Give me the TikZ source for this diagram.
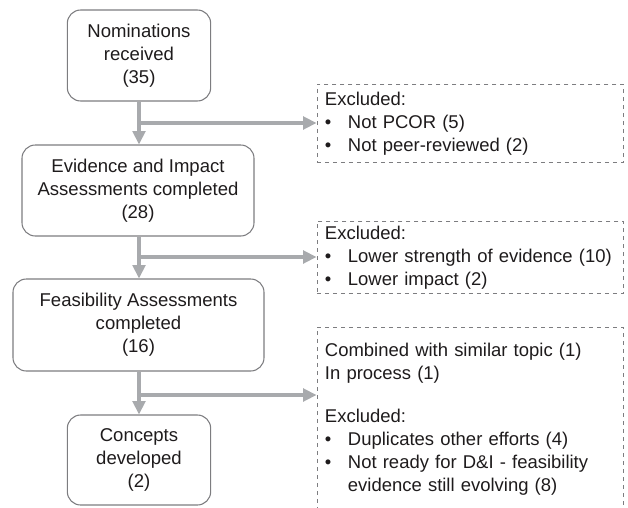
\documentclass[tikz,border=0pt]{standalone}
\usepackage{fontspec}
\setmainfont{Liberation Sans}
\usetikzlibrary{arrows.meta}
\definecolor{flowgray}{RGB}{168,170,173}
\definecolor{framegray}{RGB}{125,125,128}
\definecolor{inkgray}{RGB}{30,27,28}
\newcommand{\bul}{\makebox[17.25pt][l]{\textbullet}}
\tikzset{
  stagebox/.style={draw=framegray, line width=0.8pt, rounded corners=10pt, align=center,
    text=inkgray, font=\fontsize{13.9pt}{17.25pt}\selectfont, inner sep=0pt},
  exclbox/.style={draw=framegray, dashed, line width=0.7pt, anchor=north west, align=left,
    text=inkgray, font=\fontsize{13.85pt}{17.25pt}\selectfont, inner xsep=6pt, inner ysep=0pt,
    text width=218pt},
  flow/.style={draw=flowgray, line width=2.3pt, -{Triangle[length=10pt,width=9.5pt]}}
}
\begin{document}
\begin{tikzpicture}[x=0.75pt, y=-0.75pt]
\useasboundingbox (0,0) rectangle (628,507);
\node[stagebox, minimum width=107.5pt, minimum height=68.25pt] (nom) at (139,55.5) {Nominations\\received\\(35)};
\node[stagebox, minimum width=174pt, minimum height=68.25pt] (eia) at (138,190.5) {Evidence and Impact\\Assessments completed\\(28)};
\node[stagebox, minimum width=188.25pt, minimum height=69pt] (fea) at (138.5,325) {Feasibility Assessments\\completed\\(16)};
\node[stagebox, minimum width=107.5pt, minimum height=67.5pt] (con) at (139,460) {Concepts\\developed\\(2)};
\node[exclbox, minimum height=58.5pt] (ex1) at (316.5,84) {Excluded:\\\bul Not PCOR (5)\\\bul Not peer-reviewed (2)};
\node[exclbox, minimum height=54pt] (ex2) at (316.5,221) {Excluded:\\\bul Lower strength of evidence (10)\\\bul Lower impact (2)};
\node[exclbox, minimum height=137pt] (ex3) at (316.5,327) {Combined with similar topic (1)\\In process (1)\\[15pt]Excluded:\\\bul Duplicates other efforts (4)\\\bul Not ready for D\&I - feasibility\\\hspace*{17.25pt}evidence still evolving (8)};
\coordinate (b1) at (139,123);
\coordinate (b2) at (139,257);
\coordinate (b3) at (139,395);
\draw[flow] (nom.south) -- (eia.north -| nom.south);
\draw[flow] (eia.south -| nom.south) -- (fea.north -| nom.south);
\draw[flow] (fea.south -| nom.south) -- (con.north);
\draw[flow] (b1) -- (ex1.west |- b1);
\draw[flow] (b2) -- (ex2.west |- b2);
\draw[flow] (b3) -- (ex3.west |- b3);
\end{tikzpicture}
\end{document}
